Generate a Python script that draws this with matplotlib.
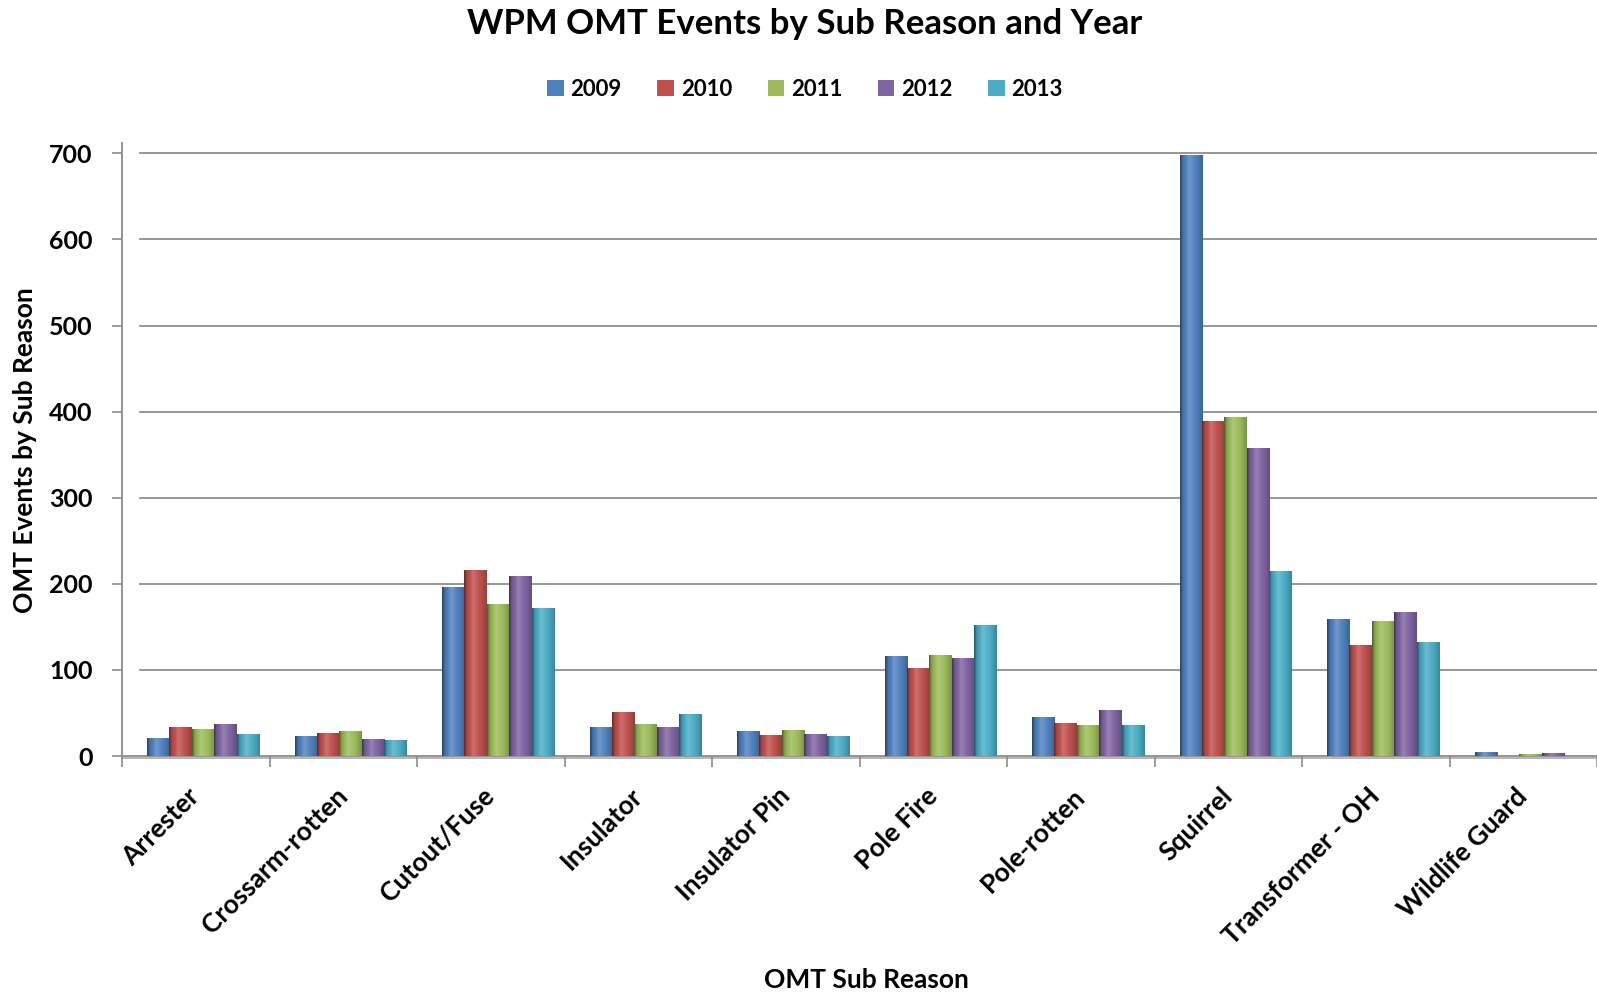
import numpy as np
import matplotlib
matplotlib.use("Agg")
import matplotlib.pyplot as plt
from matplotlib.colors import to_rgb
from matplotlib.patches import Patch

plt.rcParams["font.family"] = ["Lato", "DejaVu Sans"]
plt.rcParams["font.weight"] = "bold"

reasons = ["Arrester", "Crossarm-rotten", "Cutout/Fuse", "Insulator", "Insulator Pin",
           "Pole Fire", "Pole-rotten", "Squirrel", "Transformer - OH", "Wildlife Guard"]
years = ["2009", "2010", "2011", "2012", "2013"]
year_colors = ["#4F81BD", "#C0504D", "#9BBB59", "#8064A2", "#4BACC6"]

events_2009 = [20, 23, 196, 33, 28, 116, 45, 697, 158, 4]
events_2010 = [33, 26, 216, 50, 24, 102, 38, 389, 128, 0]
events_2011 = [31, 28, 176, 37, 30, 117, 36, 393, 156, 2]
events_2012 = [37, 19, 209, 33, 25, 113, 53, 357, 167, 3]
events_2013 = [25, 18, 171, 48, 23, 152, 35, 214, 132, 0]
y_ticks = [0, 100, 200, 300, 400, 500, 600, 700]


def cylinder_shade(color, n=64):
    # horizontal gradient: dark left edge, highlight left of centre, softer right edge
    base = np.array(to_rgb(color))
    t = np.linspace(0, 1, n)
    f = np.interp(t, [0, 0.12, 0.4, 0.75, 1], [0.5, 0.88, 1.12, 0.97, 0.78])
    out = np.empty((1, n, 3))
    for i, k in enumerate(f):
        if k <= 1:
            out[0, i] = base * k
        else:
            out[0, i] = base + (1 - base) * (k - 1) * 1.6
    return np.clip(out, 0, 1)


def main():
    fig = plt.figure(figsize=(15.97, 9.94), dpi=100)
    ax = fig.add_axes([122 / 1597, 238 / 994, 1475 / 1597, 613 / 994])

    series = [events_2009, events_2010, events_2011, events_2012, events_2013]
    x = np.arange(len(reasons))
    width = 0.152
    shift = 0.05

    # gridlines on the back wall
    for v in y_ticks[1:]:
        ax.axhline(v, xmin=0.012, xmax=1, color="#8f8f8f", lw=1.3, zorder=1)
    ax.plot([-0.5, 9.5], [-2, -2], color="#b0b0b0", lw=1.3, zorder=1, clip_on=False)

    for k, (vals, col) in enumerate(zip(series, year_colors)):
        pos = x + shift + (k - 2) * width
        bars = ax.bar(pos, vals, width=width, color=col, zorder=2, linewidth=0)
        grad = cylinder_shade(col)
        for b in bars:
            h = b.get_height()
            if h <= 0:
                continue
            ax.imshow(grad, extent=[b.get_x(), b.get_x() + b.get_width(), 0, h],
                      aspect="auto", interpolation="bilinear", zorder=3)

    ax.set_xlim(-0.5, 9.5)
    ax.set_ylim(0, 712)

    # axes styling
    for s in ["top", "right"]:
        ax.spines[s].set_visible(False)
    ax.spines["left"].set_color("#8c8c8c")
    ax.spines["bottom"].set_color("#8c8c8c")
    ax.spines["left"].set_linewidth(1.3)
    ax.spines["bottom"].set_linewidth(1.3)

    ax.set_yticks(y_ticks)
    ax.set_yticklabels([str(v) for v in y_ticks], fontsize=18, fontweight="bold")
    ax.tick_params(axis="y", length=7, width=1.2, color="#8c8c8c", pad=14)

    ax.set_xticks(np.arange(-0.5, 10, 1.0))
    ax.set_xticklabels([])
    ax.tick_params(axis="x", which="major", length=8, width=1.2, color="#8c8c8c")
    ax.set_xticks(x, minor=True)
    ax.set_xticklabels(reasons, minor=True, rotation=45, ha="right", va="center",
                       rotation_mode="anchor", fontsize=19, fontweight="bold")
    ax.tick_params(axis="x", which="minor", length=0, pad=26)

    # titles and legend
    fig.text(805 / 1597, 1 - 24 / 994, "WPM OMT Events by Sub Reason and Year",
             ha="center", va="center", fontsize=25, fontweight="bold")
    fig.text(25 / 1597, 1 - 450 / 994, "OMT Events by Sub Reason", rotation=90,
             ha="center", va="center", fontsize=19, fontweight="bold")
    fig.text(866 / 1597, 1 - 980 / 994, "OMT Sub Reason",
             ha="center", va="center", fontsize=19, fontweight="bold")

    handles = [Patch(facecolor=c, edgecolor="none") for c in year_colors]
    fig.legend(handles, years, loc="center", bbox_to_anchor=(805 / 1597, 1 - 89 / 994),
               ncol=5, frameon=False, fontsize=16, handlelength=0.75, handleheight=0.75,
               handletextpad=0.3, columnspacing=1.6)

    fig.savefig("out.png", dpi=100, facecolor="white")
    plt.close(fig)


if __name__ == "__main__":
    main()
